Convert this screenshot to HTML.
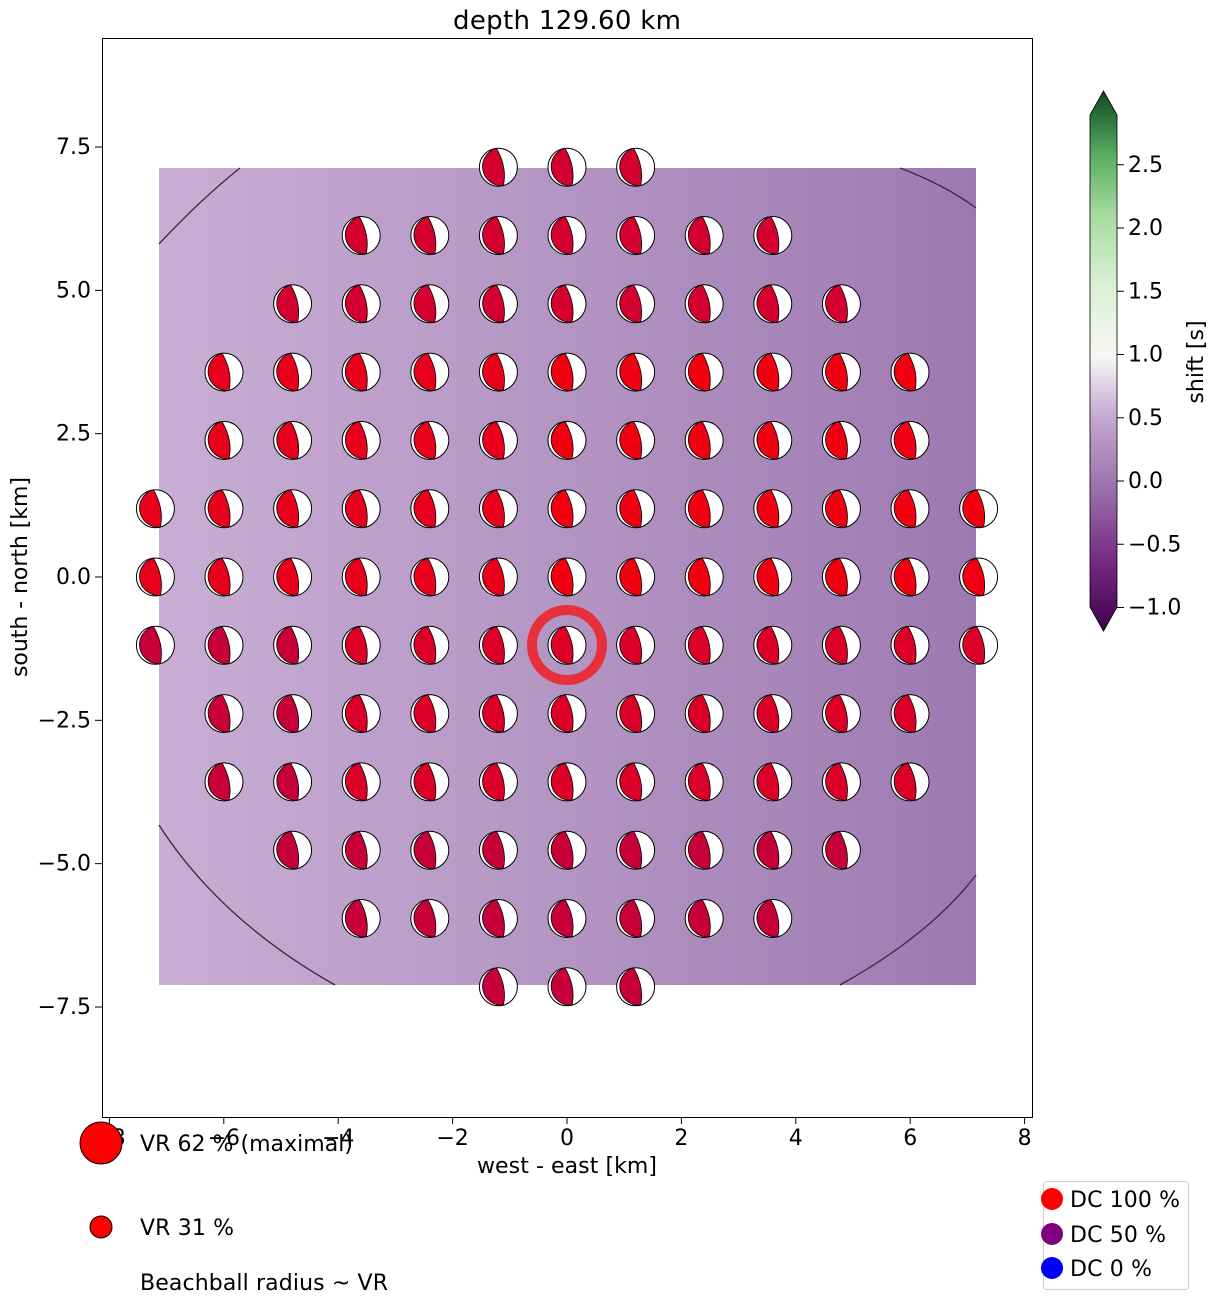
<!DOCTYPE html>
<html><head><style>body{margin:0;background:#fff}</style></head><body>
<svg id="s" width="1219" height="1305" xmlns="http://www.w3.org/2000/svg" font-family="DejaVu Sans, sans-serif" font-size="22">
<defs>
<linearGradient id="bg" x1="0" x2="1" y1="0" y2="0">
<stop offset="0" stop-color="#c8aed4"/><stop offset="0.45" stop-color="#b597c4"/><stop offset="1" stop-color="#9d79b1"/>
</linearGradient>
<linearGradient id="cb" x1="0" x2="0" y1="1" y2="0">
<stop offset="0" stop-color="#40004b"/><stop offset="0.13" stop-color="#762a83"/><stop offset="0.26" stop-color="#9970ab"/><stop offset="0.39" stop-color="#c2a5cf"/><stop offset="0.51" stop-color="#f7f7f7"/><stop offset="0.64" stop-color="#d9f0d3"/><stop offset="0.77" stop-color="#a6dba0"/><stop offset="0.88" stop-color="#5aae61"/><stop offset="1" stop-color="#0d4a22"/>
</linearGradient>
</defs>
<rect x="159" y="168" width="817" height="817" fill="url(#bg)"/>
<g fill="none" stroke="#3a2a3a" stroke-width="1.3">
<path d="M159,244 Q200,200 240,168"/>
<path d="M900,168 Q945,185 976,208"/>
<path d="M159,825 Q220,920 335,985"/>
<path d="M840,985 Q930,935 976,875"/>
</g>
<g id="balls"></g>
<circle cx="567" cy="645" r="35" fill="none" stroke="#e8303c" stroke-width="10"/>
<rect x="102.5" y="38.5" width="930" height="1079" fill="none" stroke="#000" stroke-width="1"/>
<text x="567" y="29" text-anchor="middle" font-size="26" textLength="228">depth 129.60 km</text>
<g id="ticks"></g>
<text x="567" y="1173" text-anchor="middle" textLength="180">west - east [km]</text>
<text transform="translate(27,577) rotate(-90)" text-anchor="middle" textLength="200">south - north [km]</text>
<path d="M1090,115 L1103.5,91 L1117,115 L1117,607 L1103.5,631 L1090,607 Z" fill="url(#cb)" stroke="#000" stroke-width="0.8"/>
<text transform="translate(1203,362) rotate(-90)" text-anchor="middle">shift [s]</text>
<circle cx="101" cy="1143" r="21" fill="#f00" stroke="#000"/>
<text x="140" y="1151" textLength="213">VR 62 % (maximal)</text>
<circle cx="101" cy="1227" r="11" fill="#f00" stroke="#000"/>
<text x="140" y="1235" textLength="94">VR 31 %</text>
<text x="140" y="1290" textLength="248">Beachball radius ~ VR</text>
<rect x="1043.5" y="1181.5" width="145" height="108" rx="3" fill="#fff" stroke="#ccc"/>
<circle cx="1052" cy="1199" r="11" fill="#f00"/><text x="1070" y="1207" textLength="110">DC 100 %</text>
<circle cx="1052" cy="1234" r="11" fill="#800080"/><text x="1070" y="1242" textLength="96">DC 50 %</text>
<circle cx="1052" cy="1268" r="11" fill="#00f"/><text x="1070" y="1276" textLength="82">DC 0 %</text>
</svg>
<script>
var NS="http://www.w3.org/2000/svg";
function el(p,t,a,txt){var e=document.createElementNS(NS,t);for(var k in a)e.setAttribute(k,a[k]);if(txt!==undefined)e.textContent=txt;p.appendChild(e);return e;}
var g=document.getElementById('balls');
var rows={6:1,5:3,4:4,3:5,2:5,1:6,0:6,"-1":6,"-2":5,"-3":5,"-4":4,"-5":3,"-6":1};
for(var r=6;r>=-6;r--){var n=rows[r];for(var c=-n;c<=n;c++){
 var x=567+c*68.6,y=577-r*68.3;
 var red;
 if(r>=4) red="#d40030"; else if(r>=0 && c>=0) red="#f00010"; else if(r>=0) red="#e8001c"; else if(r<=-4||c<=-4) red="#c8003a"; else red="#dc0028";
 var gg=el(g,'g',{transform:'translate('+x+','+y+')'});
 el(gg,'circle',{r:19,fill:'#fff',stroke:'#000','stroke-width':1});
 el(gg,'path',{d:'M-2,-18.9 A19,19 0 0 0 5,18.3 Q9,0 -2,-18.9 Z',fill:red,stroke:'#000','stroke-width':0.8});
}}
var t=document.getElementById('ticks');
[-8,-6,-4,-2,0,2,4,6,8].forEach(function(v){var x=567+v*57.2;el(t,'line',{x1:x,x2:x,y1:1117,y2:1124,stroke:'#000'});el(t,'text',{x:x,y:1145,'text-anchor':'middle'},(v<0?'\u2212':'')+Math.abs(v));});
[-7.5,-5,-2.5,0,2.5,5,7.5].forEach(function(v){var y=577-v*57.33;el(t,'line',{x1:95,x2:102,y1:y,y2:y,stroke:'#000'});el(t,'text',{x:91,y:y+7,'text-anchor':'end'},(v<0?'\u2212':'')+Math.abs(v).toFixed(1));});
[-1,-0.5,0,0.5,1,1.5,2,2.5].forEach(function(v){var y=481-v*126.5;el(t,'line',{x1:1117,x2:1124,y1:y,y2:y,stroke:'#000'});el(t,'text',{x:1128,y:y+7},(v<0?'\u2212':'')+Math.abs(v).toFixed(1));});
</script>
</body></html>
